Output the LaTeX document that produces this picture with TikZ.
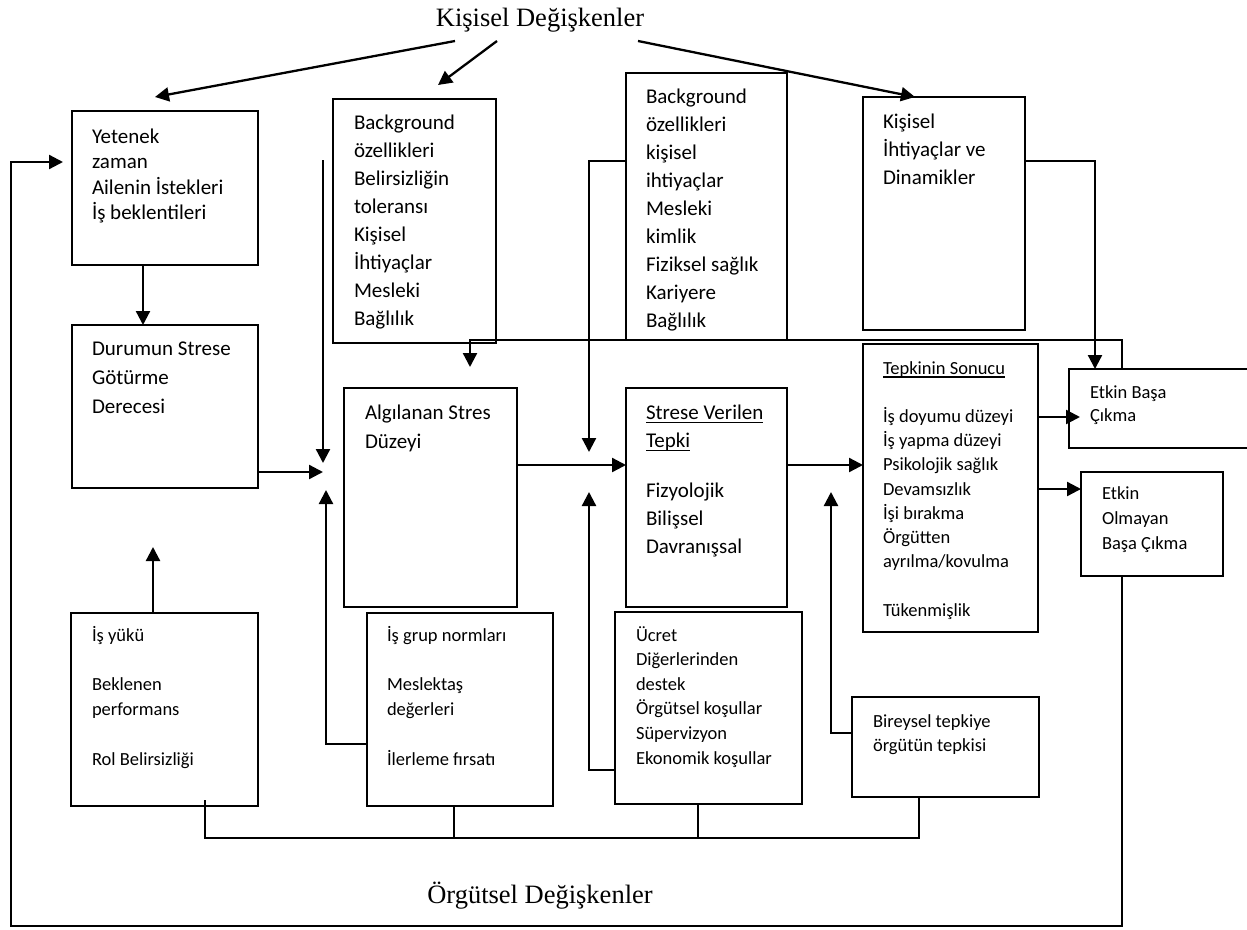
\documentclass[tikz,border=0pt]{standalone}
\usepackage{fontspec}
\setmainfont{Carlito}
\newfontfamily\titlefont{Liberation Serif}
\usetikzlibrary{arrows.meta}
\pgfdeclarelayer{background}
\pgfsetlayers{background,main}

% stacked lines whose baseline is the first line's baseline
\newcommand{\lineset}[1]{\begin{tabular}[t]{@{}l@{}}#1\end{tabular}}
% underline that sits just below the baseline
\newcommand{\undertext}[1]{\setbox0\hbox{#1}\rlap{\rule[-3.5pt]{\wd0}{1.3pt}}\box0}

\tikzset{
  box/.style={draw, line width=2.3pt, fill=white, inner sep=0pt, outer sep=0pt, anchor=north west},
  txt/.style={anchor=base west, inner sep=0pt, outer sep=0pt},
  heading/.style={anchor=base, inner sep=0pt, font=\titlefont\fontsize{26.5}{30}\selectfont},
  arr/.style={line width=2.3pt, -{Triangle[length=14pt,width=14pt]}},
  ln/.style={line width=2.3pt},
}

\begin{document}
\begin{tikzpicture}[x=1pt,y=-1pt]
\useasboundingbox[fill=white] (0,0) rectangle (1247,929);

% ---------- boxes ----------
\node[box, minimum width=186pt, minimum height=154pt] (A)  at (72,111)  {};
\node[box, minimum width=163pt, minimum height=244pt] (B)  at (333,99)  {};
\node[box, minimum width=161pt, minimum height=267pt] (C)  at (626,73)  {};
\node[box, minimum width=162pt, minimum height=233pt] (K)  at (863,97)  {};
\node[box, minimum width=186pt, minimum height=163pt] (Dr) at (72,325)  {};
\node[box, minimum width=173pt, minimum height=219pt] (D)  at (344,388) {};
\node[box, minimum width=161pt, minimum height=219pt] (E)  at (626,388) {};
\node[box, minimum width=175pt, minimum height=288pt] (T)  at (863,344) {};
\node[box, minimum width=184pt, minimum height=79pt]  (EB) at (1069,369) {};
\node[box, minimum width=142pt, minimum height=104pt] (EO) at (1081,472) {};
\node[box, minimum width=187pt, minimum height=193pt] (Y)  at (71,613)  {};
\node[box, minimum width=186pt, minimum height=193pt] (G)  at (367,613) {};
\node[box, minimum width=187pt, minimum height=192pt] (U)  at (615,612) {};
\node[box, minimum width=187pt, minimum height=100pt] (Bi) at (852,697) {};

% ---------- headings ----------
\node[heading] (kd) at (540,26)  {Kişisel Değişkenler};
\node[heading] (od) at (540,903) {Örgütsel Değişkenler};

% ---------- box texts ----------
\node[txt, font=\fontsize{21}{25.3}\selectfont] (tA) at (92,143.5)
  {\lineset{Yetenek\\ zaman\\ Ailenin İstekleri\\ İş beklentileri}};
\node[txt, font=\fontsize{21}{28}\selectfont] (tB) at (354,129.5)
  {\lineset{Background\\ özellikleri\\ Belirsizliğin\\ toleransı\\ Kişisel\\ İhtiyaçlar\\ Mesleki\\ Bağlılık}};
\node[txt, font=\fontsize{21}{28}\selectfont] (tC) at (646,103.5)
  {\lineset{Background\\ özellikleri\\ kişisel\\ ihtiyaçlar\\ Mesleki\\ kimlik\\ Fiziksel sağlık\\ Kariyere\\ Bağlılık}};
\node[txt, font=\fontsize{21}{28}\selectfont] (tK) at (883,128.5)
  {\lineset{Kişisel\\ İhtiyaçlar ve\\ Dinamikler}};
\node[txt, font=\fontsize{21}{28.8}\selectfont] (tDr) at (92,355.5)
  {\lineset{Durumun Strese\\ Götürme\\ Derecesi}};
\node[txt, font=\fontsize{21}{29}\selectfont] (tD) at (365,419.5)
  {\lineset{Algılanan Stres\\ Düzeyi}};
\node[txt, font=\fontsize{21}{28.3}\selectfont] (tE) at (646,419.5)
  {\lineset{\undertext{Strese Verilen}\\ \undertext{Tepki}\\[21pt] Fizyolojik\\ Bilişsel\\ Davranışsal}};
\node[txt, font=\fontsize{18.5}{24.2}\selectfont] (tT) at (883,374)
  {\lineset{\undertext{Tepkinin Sonucu}\\ \\ İş doyumu düzeyi\\ İş yapma düzeyi\\ Psikolojik sağlık\\ Devamsızlık\\ İşi bırakma\\ Örgütten\\ ayrılma/kovulma\\ \\ Tükenmişlik}};
\node[txt, font=\fontsize{18.5}{23}\selectfont] (tEB) at (1090,398)
  {\lineset{Etkin Başa\\ Çıkma}};
\node[txt, font=\fontsize{18.5}{25}\selectfont] (tEO) at (1102,499)
  {\lineset{Etkin\\ Olmayan\\ Başa Çıkma}};
\node[txt, font=\fontsize{18.5}{24.8}\selectfont] (tY) at (92,641)
  {\lineset{İş yükü\\ \\ Beklenen\\ performans\\ \\ Rol Belirsizliği}};
\node[txt, font=\fontsize{18.5}{24.8}\selectfont] (tG) at (387,641)
  {\lineset{İş grup normları\\ \\ Meslektaş\\ değerleri\\ \\ İlerleme fırsatı}};
\node[txt, font=\fontsize{18.5}{24.6}\selectfont] (tU) at (636,641)
  {\lineset{Ücret\\ Diğerlerinden\\ destek\\ Örgütsel koşullar\\ Süpervizyon\\ Ekonomik koşullar}};
\node[txt, font=\fontsize{18.5}{24}\selectfont] (tBi) at (873,727)
  {\lineset{Bireysel tepkiye\\ örgütün tepkisi}};

% ---------- connector coordinates ----------
\coordinate (k1) at (455,41);  \coordinate (e1) at (155,97);
\coordinate (k2) at (497,41);  \coordinate (e2) at (438,85);
\coordinate (k3) at (580,41);  \coordinate (e3) at (633,78);
\coordinate (k4) at (638,41);  \coordinate (e4) at (915,97);
\coordinate (frR) at (1122,0); \coordinate (fL) at (11,926); \coordinate (fT) at (63,162);
\coordinate (xAD) at (143,0);
\coordinate (jL)  at (323,472); \coordinate (jTop) at (323,160); \coordinate (jL1) at (323,463);
\coordinate (gy)  at (0,744);   \coordinate (jL2) at (326,490);
\coordinate (yx)  at (153,0);   \coordinate (yTip) at (153,547);
\coordinate (c1)  at (1122,340); \coordinate (c2) at (470,340); \coordinate (dTip) at (470,367);
\coordinate (m1)  at (0,465);
\coordinate (c161) at (0,161);  \coordinate (eTip) at (589,452);
\coordinate (u770) at (0,770);  \coordinate (eTip2) at (589,492);
\coordinate (b733) at (0,733);  \coordinate (tTip) at (831,492);
\coordinate (kx)  at (1095,0);
\coordinate (r1)  at (0,417);   \coordinate (rTip1) at (1080,417);
\coordinate (r2)  at (0,489);
\coordinate (bus) at (0,838);   \coordinate (yb) at (205,800);
\coordinate (g454) at (454,0);  \coordinate (u698) at (698,0); \coordinate (b919) at (919,0);

% ---------- connectors ----------
\draw[arr] (k1) -- (e1);
\draw[arr] (k2) -- (e2);
\begin{pgfonlayer}{background}
  \draw[arr] (k3) -- (e3);
\end{pgfonlayer}
\draw[arr] (k4) -- (e4);

% outer feedback frame
\draw[arr] (EO.south -| frR) |- (fL) |- (fT);

\draw[arr] (A.south -| xAD) -- (Dr.north -| xAD);
\draw[arr] (Dr.east |- jL) -- (jL);
\draw[arr] (jTop) -- (jL1);
\draw[arr] (G.west |- gy) -| (jL2);
\draw[arr] (Y.north -| yx) -- (yTip);

\draw[arr] (EB.north -| c1) -- (c1) -- (c2) -- (dTip);
\draw[arr] (D.east |- m1) -- (E.west |- m1);
\draw[arr] (C.west |- c161) -| (eTip);
\draw[arr] (U.west |- u770) -| (eTip2);
\draw[arr] (E.east |- m1) -- (T.west |- m1);
\draw[arr] (Bi.west |- b733) -| (tTip);
\draw[arr] (K.east |- c161) -| (EB.north -| kx);
\draw[arr] (T.east |- r1) -- (rTip1);
\draw[arr] (T.east |- r2) -- (EO.west |- r2);

% bottom bus joining the organisational boxes
\draw[ln] (yb) -- (yb |- bus) -| (Bi.south -| b919);
\draw[ln] (G.south -| g454) -- (g454 |- bus);
\draw[ln] (U.south -| u698) -- (u698 |- bus);
\end{tikzpicture}
\end{document}
